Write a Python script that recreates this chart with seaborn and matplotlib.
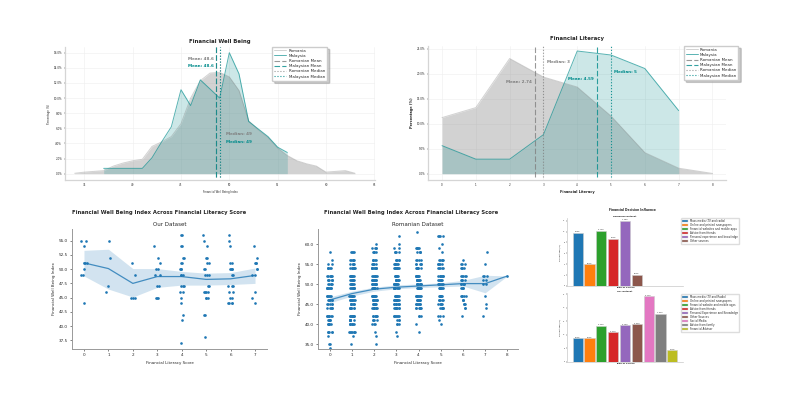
import numpy as np
import pandas as pd
import matplotlib
matplotlib.use("Agg")
import matplotlib.pyplot as plt
import seaborn as sns

sns.set_style("white")
plt.rcParams["font.family"] = ["DejaVu Sans"]

# Distribution of the well being index, percent of respondents per score
fwb_ro_x = list(range(34, 64))
fwb_ro_y = [0.05, 0.2, 0.3, 0.4, 1.0, 1.4, 1.7, 1.9, 3.6, 4.2, 4.9, 6.6, 10.0, 12.3, 13.3,
            13.4, 12.8, 11.0, 7.0, 5.8, 4.8, 3.4, 2.4, 1.7, 1.3, 1.0, 0.2, 0.3, 0.4, 0.05]
fwb_my_x = list(range(37, 57))
fwb_my_y = [0.7, 0.7, 0.7, 0.7, 0.7, 2.1, 4.2, 6.2, 11.1, 9.0, 12.4, 11.2, 10.0, 16.0, 13.2,
            6.9, 5.9, 4.9, 3.5, 2.8]

# Distribution of the literacy score
lit_ro_x = list(range(0, 9))
lit_ro_y = [11.2, 13.2, 23.0, 19.3, 17.3, 11.5, 4.2, 1.1, 0.05]
lit_my_x = list(range(0, 8))
lit_my_y = [5.6, 2.9, 2.9, 7.8, 24.5, 23.7, 21.0, 12.6]

# Well being index by literacy score, own survey
our_scores = {
    0: [55, 55, 54, 51, 51, 51, 50, 49, 49, 44],
    1: [55, 52, 47, 46],
    2: [51, 49, 45, 45, 45],
    3: [54, 52, 51, 50, 50, 49, 49, 47, 47, 45, 45, 45],
    4: [56, 56, 54, 54, 52, 52, 51, 51, 50, 50, 50, 49, 49, 49, 47, 47, 47, 46, 46, 45, 44, 42, 41, 37],
    5: [56, 55, 54, 52, 52, 51, 51, 50, 50, 49, 49, 49, 47, 47, 46, 46, 46, 46, 45, 45, 45, 42, 42, 38],
    6: [56, 55, 54, 51, 51, 50, 50, 50, 50, 49, 49, 47, 47, 47, 46, 46, 45, 45, 44, 44, 44, 44],
    7: [54, 52, 51, 51, 51, 50, 50, 49, 49, 46, 45, 44],
}
our_mean = [51.1, 50.1, 47.5, 48.7, 48.7, 48.2, 48.3, 48.9]
our_low = [48.8, 46.5, 45.1, 46.8, 47.2, 47.2, 47.3, 47.5]
our_high = [53.3, 53.5, 50.1, 50.1, 49.6, 49.3, 49.4, 50.2]

# Well being index by literacy score, Romanian survey: respondents per index level
ro_levels = [63, 62, 60, 59, 58, 56, 55, 54, 52, 51, 50, 49, 47, 46, 45, 44, 42, 41, 40, 38, 37, 35, 34]
ro_counts = {
    0: [0, 0, 0, 0, 1, 1, 2, 5, 6, 6, 5, 8, 6, 6, 5, 5, 7, 5, 6, 5, 1, 2, 1],
    1: [0, 0, 0, 0, 4, 6, 5, 7, 8, 7, 7, 8, 8, 8, 7, 8, 9, 7, 7, 7, 1, 1, 0],
    2: [0, 0, 1, 4, 4, 5, 5, 9, 7, 8, 9, 9, 9, 8, 9, 8, 7, 4, 3, 1, 1, 1, 0],
    3: [0, 1, 1, 2, 4, 5, 6, 8, 8, 7, 9, 9, 8, 9, 8, 8, 7, 3, 3, 1, 1, 0, 0],
    4: [1, 0, 0, 5, 4, 4, 5, 7, 8, 8, 9, 9, 8, 7, 7, 7, 3, 0, 1, 1, 0, 0, 0],
    5: [0, 4, 1, 1, 1, 5, 5, 5, 7, 6, 8, 8, 7, 5, 5, 6, 3, 1, 1, 0, 0, 0, 0],
    6: [0, 0, 0, 0, 0, 1, 3, 4, 5, 4, 5, 4, 5, 3, 3, 2, 1, 0, 0, 0, 0, 0, 0],
    7: [0, 0, 0, 0, 1, 0, 1, 0, 3, 2, 2, 0, 1, 0, 1, 1, 1, 0, 0, 0, 0, 0, 0],
    8: [0, 0, 0, 0, 0, 0, 0, 0, 1, 0, 0, 0, 0, 0, 0, 0, 0, 0, 0, 0, 0, 0, 0],
}
ro_mean = [46.0, 47.6, 48.7, 49.2, 49.5, 49.8, 50.1, 50.1, 52.0]
ro_low = [45.3, 47.0, 48.2, 48.8, 49.1, 49.3, 49.5, 47.8, 52.0]
ro_high = [46.8, 48.2, 49.2, 49.8, 50.0, 50.3, 50.9, 52.2, 52.0]

# Sources of financial decision influence, percent of respondents
ro_sources = ["Mass media (TV and radio)", "Online and printed newspapers",
              "Financial websites and mobile apps", "Advice from friends",
              "Personal experience and knowledge", "Other sources"]
ro_source_pct = [9.78, 4.00, 10.13, 8.69, 11.98, 2.06]
our_sources = ["Mass media (TV and Radio)", "Online and printed newspapers",
               "Financial website and mobile apps", "Advice from friends",
               "Personal Experience and Knowledge", "Other Sources", "Social Media",
               "Advice from family", "Financial Advisor"]
our_source_pct = [8.79, 8.79, 13.33, 10.91, 13.45, 13.82, 24.24, 17.82, 4.24]

GREY = "#808080"
TEAL = "#008B8B"
W, H = 800, 400
fig = plt.figure(figsize=(8, 4), dpi=100)


def box(left, top, right, bottom):
    return fig.add_axes([left / W, 1 - bottom / H, (right - left) / W, (bottom - top) / H])


def distribution(ax, ro_x, ro_y, my_x, my_y, ro_mean_v, my_mean_v, ro_med, my_med):
    sns.lineplot(x=ro_x, y=ro_y, color=GREY, alpha=0.35, lw=0.7, ax=ax, label="Romania")
    ax.fill_between(ro_x, ro_y, color=GREY, alpha=0.35, lw=0)
    sns.lineplot(x=my_x, y=my_y, color=TEAL, alpha=0.65, lw=0.7, ax=ax, label="Malaysia")
    ax.fill_between(my_x, my_y, color=TEAL, alpha=0.2, lw=0)
    ax.axvline(ro_mean_v, ymin=0.025, color=GREY, ls=(0, (5, 2)), lw=0.8, alpha=0.8, label="Romanian Mean")
    ax.axvline(my_mean_v, ymin=0.025, color=TEAL, ls=(0, (5, 2)), lw=0.8, alpha=0.8, label="Malaysian Mean")
    ax.axvline(ro_med, ymin=0.025, color=GREY, ls=":", lw=0.8, alpha=0.8, label="Romanian Median")
    ax.axvline(my_med, ymin=0.025, color=TEAL, ls=":", lw=0.8, alpha=0.9, label="Malaysian Median")
    ax.grid(True, color="#eeeeee", lw=0.4)
    ax.yaxis.set_major_formatter(matplotlib.ticker.FormatStrFormatter("%.1f%%"))
    ax.tick_params(labelsize=2.0, length=1, width=0.3, pad=1, bottom=True, left=True)
    sns.despine(ax=ax)
    for s in ("left", "bottom"):
        ax.spines[s].set_color("#d5d5d5")
        ax.spines[s].set_linewidth(0.9)


def line_legend(ax, left, top):
    ax.legend(loc="upper left", bbox_to_anchor=(left / W, 1 - top / H), bbox_transform=fig.transFigure,
              fontsize=2.9, frameon=True, shadow={"color": "0.6", "alpha": 0.5}, framealpha=1,
              borderaxespad=0, handlelength=3.0, labelspacing=0.3, borderpad=0.5, handletextpad=0.6)


# Top left: well being distribution
ax1 = box(65, 47, 375, 180)
distribution(ax1, fwb_ro_x, fwb_ro_y, fwb_my_x, fwb_my_y, 48.6, 48.6, 49, 49)
ax1.set_xlim(33, 65.07)
ax1.set_ylim(-0.84, 16.75)
ax1.set_xticks(range(35, 70, 5))
ax1.set_yticks(np.arange(0, 17, 2))
ax1.set_title("Financial Well Being", fontsize=3.9, fontweight="bold", pad=3)
ax1.set_xlabel("Financial Well Being Index", fontsize=1.9, labelpad=2)
ax1.set_ylabel("Percentage (%)", fontsize=1.9, labelpad=2)
ax1.text(48.4, 15.2, "Mean: 48.6", color=GREY, fontsize=3.0, fontweight="bold", ha="right", va="center")
ax1.text(48.4, 14.2, "Mean: 48.6", color=TEAL, fontsize=3.0, fontweight="bold", ha="right", va="center")
ax1.text(49.7, 5.2, "Median: 49", color=GREY, fontsize=3.0, fontweight="bold", ha="left", va="center")
ax1.text(49.7, 4.2, "Median: 49", color=TEAL, fontsize=3.0, fontweight="bold", ha="left", va="center")
line_legend(ax1, 272, 46.5)

# Top right: literacy distribution
ax2 = box(428, 46, 726, 180)
distribution(ax2, lit_ro_x, lit_ro_y, lit_my_x, lit_my_y, 2.74, 4.59, 3, 5)
ax2.set_xlim(-0.415, 8.4)
ax2.set_ylim(-1.26, 25.5)
ax2.set_xticks(range(0, 9))
ax2.set_yticks(range(0, 26, 5))
ax2.set_title("Financial Literacy", fontsize=3.9, fontweight="bold", pad=4)
ax2.set_xlabel("Financial Literacy", fontsize=2.5, fontweight="bold", labelpad=2)
ax2.set_ylabel("Percentage (%)", fontsize=2.5, fontweight="bold", labelpad=2)
ax2.text(2.65, 18.35, "Mean: 2.74", color=GREY, fontsize=3.0, fontweight="bold", ha="right", va="center")
ax2.text(3.1, 22.3, "Median: 3", color=GREY, fontsize=3.0, fontweight="bold", ha="left", va="center")
ax2.text(4.5, 18.9, "Mean: 4.59", color=TEAL, fontsize=3.0, fontweight="bold", ha="right", va="center")
ax2.text(5.1, 20.4, "Median: 5", color=TEAL, fontsize=3.0, fontweight="bold", ha="left", va="center")
line_legend(ax2, 683.5, 45.5)


def score_panel(ax, df, means, lows, highs, subtitle):
    x = list(range(len(means)))
    sns.stripplot(data=df, x="score", y="index", native_scale=True, color="#1f77b4", size=1.9,
                  jitter=0.12, ax=ax, zorder=1)
    sns.lineplot(x=x, y=means, color="#1f77b4", lw=0.9, alpha=0.8, ax=ax, errorbar=None)
    ax.fill_between(x, lows, highs, color="#1f77b4", alpha=0.2, lw=0)
    ax.set_xticks(x)
    ax.tick_params(labelsize=3.0, length=1.5, width=0.4, pad=1.5, bottom=True, left=True)
    ax.set_xlabel("Financial Literacy Score", fontsize=2.9, labelpad=2.5)
    ax.set_ylabel("Financial Well Being Index", fontsize=2.9, labelpad=2)
    ax.set_title(subtitle, fontsize=4, pad=2.5)
    sns.despine(ax=ax)
    for s in ("left", "bottom"):
        ax.spines[s].set_color("#999999")
        ax.spines[s].set_linewidth(0.7)


np.random.seed(7)

# Bottom left: own survey
our_df = pd.DataFrame([(s, v) for s, vals in our_scores.items() for v in vals], columns=["score", "index"])
ax3 = box(72, 229, 267, 349)
score_panel(ax3, our_df, our_mean, our_low, our_high, "Our Dataset")
ax3.set_xlim(-0.49, 7.49)
ax3.set_ylim(35.98, 57.05)
ax3.set_yticks(np.arange(37.5, 55.1, 2.5))
ax3.yaxis.set_major_formatter(matplotlib.ticker.FormatStrFormatter("%.1f"))
fig.text(159 / W, 1 - 212.5 / H, "Financial Well Being Index Across Financial Literacy Score",
         fontsize=3.8, fontweight="bold", ha="center", va="center")

# Bottom middle: Romanian survey
ro_df = pd.DataFrame([(s, lvl) for s, counts in ro_counts.items()
                      for lvl, n in zip(ro_levels, counts) for _ in range(n)], columns=["score", "index"])
ax4 = box(318, 229, 518, 349)
score_panel(ax4, ro_df, ro_mean, ro_low, ro_high, "Romanian Dataset")
ax4.set_xlim(-0.53, 8.48)
ax4.set_ylim(33.75, 63.75)
ax4.set_yticks(range(35, 61, 5))
ax4.yaxis.set_major_formatter(matplotlib.ticker.FormatStrFormatter("%.1f"))
fig.text(411 / W, 1 - 212.5 / H, "Financial Well Being Index Across Financial Literacy Score",
         fontsize=3.8, fontweight="bold", ha="center", va="center")


def source_bars(ax, names, values, subtitle, leg_top):
    df = pd.DataFrame({"source": names, "pct": values})
    sns.barplot(data=df, x="source", y="pct", hue="source", order=names, hue_order=names,
                palette="tab10", saturation=1, width=0.85, dodge=False, edgecolor="#cccccc",
                linewidth=0.4, ax=ax)
    ax.set_xlim(-0.9, 8.9)
    ax.set_xticks([])
    handles = []
    for cont, name in zip(ax.containers, names):
        ax.bar_label(cont, fmt="%.2f%%", fontsize=1.3, padding=0.4)
        handles.append(matplotlib.patches.Patch(facecolor=cont[0].get_facecolor(), edgecolor="#cccccc",
                                                linewidth=0.3, label=name))
    ax.tick_params(labelsize=1.3, length=0.8, width=0.3, pad=0.8, left=True)
    ax.set_xlabel("Type of Source", fontsize=1.6, fontweight="bold", labelpad=0.6)
    ax.set_ylabel("Percentage (%)", fontsize=1.6, labelpad=1)
    ax.set_title(subtitle, fontsize=1.6, fontweight="bold", pad=1)
    sns.despine(ax=ax)
    for s in ("left", "bottom"):
        ax.spines[s].set_color("#c8c8c8")
        ax.spines[s].set_linewidth(0.5)
    ax.legend(handles=handles, loc="upper left", bbox_to_anchor=(681 / W, 1 - leg_top / H),
              bbox_transform=fig.transFigure, fontsize=1.9, frameon=True, framealpha=1, borderaxespad=0,
              labelspacing=0.0, handlelength=2.3, borderpad=0.4, edgecolor="#dddddd")


# Right column: decision influence bars
ax5 = box(567, 218, 683, 286)
source_bars(ax5, ro_sources, ro_source_pct, "Romanian Dataset", 218)
ax5.set_ylim(0, 12.5)
ax5.set_yticks(range(0, 13, 2))
ax6 = box(567, 293, 683, 362)
source_bars(ax6, our_sources, our_source_pct, "Our Dataset", 294)
ax6.set_ylim(0, 25.4)
ax6.set_yticks(range(0, 26, 5))
fig.text(632 / W, 1 - 209.5 / H, "Financial Decision Influence", fontsize=2.2, fontweight="bold",
         ha="center", va="center")

fig.savefig("out.png", dpi=100)
